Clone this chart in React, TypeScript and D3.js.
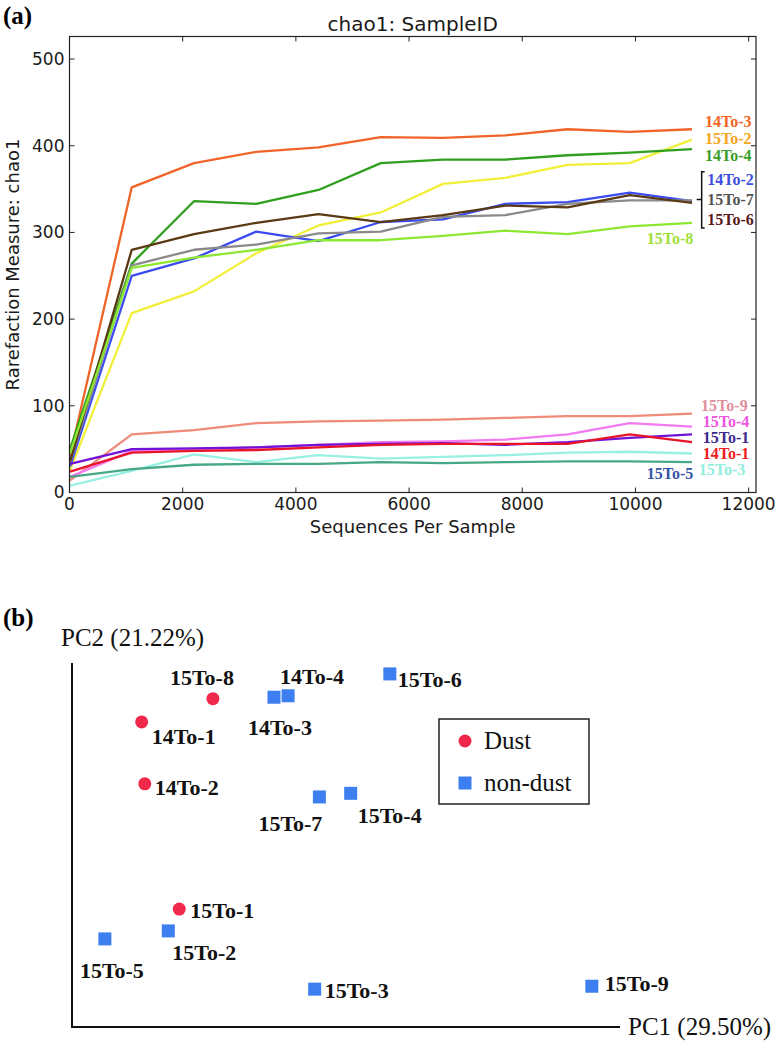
import React from 'react';
import * as d3 from 'd3';

// ---------- (a) rarefaction data ----------
const seqDepths = [10, 1100, 2200, 3300, 4400, 5500, 6600, 7700, 8800, 9900, 11000];

const chao14To3 = [42, 352, 380, 393, 398, 410, 409, 412, 419, 416, 419];
const chao15To2 = [26, 207, 232, 276, 308, 323, 356, 363, 378, 380, 407];
const chao14To4 = [50, 264, 336, 333, 349, 380, 384, 384, 389, 392, 396];
const chao14To2 = [30, 250, 270, 301, 290, 312, 315, 333, 335, 346, 336];
const chao15To7 = [35, 262, 280, 286, 299, 301, 318, 320, 333, 337, 337];
const chao15To6 = [36, 280, 298, 311, 321, 312, 320, 331, 329, 343, 334];
const chao15To8 = [45, 259, 271, 280, 291, 291, 296, 302, 298, 307, 311];
const chao15To9 = [14, 67, 72, 80, 82, 83, 84, 86, 88, 88, 91];
const chao15To4 = [18, 48, 50, 52, 55, 58, 59, 61, 67, 80, 76];
const chao15To1 = [33, 50, 51, 52, 55, 56, 57, 55, 58, 63, 67];
const chao14To1 = [24, 46, 48, 49, 52, 55, 56, 56, 56, 67, 58];
const chao15To3 = [8, 25, 44, 35, 43, 39, 41, 43, 46, 47, 45];
const chao15To5 = [18, 27, 32, 33, 33, 35, 34, 35, 36, 36, 35];

const sampleIds = ['14To-3', '15To-2', '14To-4', '14To-2', '15To-7', '15To-6', '15To-8',
  '15To-9', '15To-4', '15To-1', '14To-1', '15To-3', '15To-5'];
const chaoSeries = [chao14To3, chao15To2, chao14To4, chao14To2, chao15To7, chao15To6, chao15To8,
  chao15To9, chao15To4, chao15To1, chao14To1, chao15To3, chao15To5];

const xTickValues = [0, 2000, 4000, 6000, 8000, 10000, 12000];
const yTickValues = [0, 100, 200, 300, 400, 500];

// ---------- (b) PCoA data ----------
const pcoaIds = ['15To-8', '14To-1', '14To-2', '15To-1', '14To-3', '14To-4', '15To-6',
  '15To-7', '15To-4', '15To-5', '15To-2', '15To-3', '15To-9'];
const pc1Values = [-0.120, -0.211, -0.207, -0.163, -0.042, -0.024, 0.106, 0.016, 0.056, -0.258, -0.177, 0.010, 0.364];
const pc2Values = [0.151, 0.119, 0.034, -0.138, 0.153, 0.155, 0.185, 0.016, 0.021, -0.179, -0.168, -0.248, -0.244];
const pcoaGroups = ['Dust', 'Dust', 'Dust', 'Dust', 'non-dust', 'non-dust', 'non-dust',
  'non-dust', 'non-dust', 'non-dust', 'non-dust', 'non-dust', 'non-dust'];
const legendGroups = ['Dust', 'non-dust'];

// ---------- styles / layout ----------
const lineColors: Record<string, string> = {
  '14To-3': '#f0642a', '15To-2': '#f2ef3a', '14To-4': '#2f9f1e', '14To-2': '#3a4cf0',
  '15To-7': '#8a8a8a', '15To-6': '#5a3a14', '15To-8': '#8ce832', '15To-9': '#f08a7a',
  '15To-4': '#f37af0', '15To-1': '#7212d6', '14To-1': '#e8142a', '15To-3': '#98f0e2', '15To-5': '#46a884',
};
const labelColors: Record<string, string> = {
  '14To-3': '#f26522', '15To-2': '#f5a623', '14To-4': '#3a9e2a', '14To-2': '#3d4fe0',
  '15To-7': '#555555', '15To-6': '#5b1a1a', '15To-8': '#9ee03a', '15To-9': '#e0909a',
  '15To-4': '#ee55dd', '15To-1': '#3b2a8a', '14To-1': '#ee1c1c', '15To-3': '#90eedd', '15To-5': '#3656a8',
};
// curve label anchors in data units [depth, chao1]
const curveLabelAt: Record<string, [number, number]> = {
  '14To-3': [11230, 428], '15To-2': [11230, 408], '14To-4': [11230, 389],
  '14To-2': [11270, 361], '15To-7': [11270, 338], '15To-6': [11270, 315],
  '15To-8': [10200, 293], '15To-9': [11160, 100], '15To-4': [11190, 82],
  '15To-1': [11190, 63], '14To-1': [11190, 45], '15To-3': [11120, 27], '15To-5': [10200, 22],
};
// PCoA label offsets in px [dx, dy]
const pcoaLabelOffset: Record<string, [number, number]> = {
  '15To-8': [-43, -21], '14To-1': [10, 14], '14To-2': [10, 3], '15To-1': [11, 1],
  '14To-3': [-26, 30], '14To-4': [-8, -19], '15To-6': [8, 5], '15To-7': [-61, 26],
  '15To-4': [7, 22], '15To-5': [-25, 31], '15To-2': [4, 21], '15To-3': [10, 1], '15To-9': [13, -3],
};
const groupColor: Record<string, string> = { 'Dust': '#f0284a', 'non-dust': '#3d7ff0' };

const SANS = "'DejaVu Sans', sans-serif";
const SERIF = "'Liberation Serif', 'Times New Roman', serif";

export default function App() {
  // panel (a) scales
  const x = d3.scaleLinear().domain([0, 12130]).range([69.5, 756]);
  const y = d3.scaleLinear().domain([0, 526]).range([492.5, 36.5]);
  const line = d3.line<number>().x((_, i) => x(seqDepths[i])).y((d) => y(d));
  const left = x.range()[0], right = x.range()[1], top = y.range()[1], bottom = y.range()[0];
  const tickLen = 5;

  // panel (b) scales
  const px = d3.scaleLinear().domain([-0.3, 0.4]).range([72, 620]);
  const py = d3.scaleLinear().domain([-0.3, 0.2]).range([1027, 663]);
  const sq = 13;

  const bracketX = x(11170);
  const bTop = y(370), bBot = y(305), bMid = y(338);

  return (
    <svg width={780} height={1043} style={{ position: 'absolute', left: 0, top: 0, background: '#fff' }}>
      <rect width={780} height={1043} fill="#fff" />
      {/* ---------- (a) ---------- */}
      <text x={3} y={24} fontFamily={SERIF} fontWeight="bold" fontSize={25}>(a)</text>
      <text x={(left + right) / 2} y={31} textAnchor="middle" fontFamily={SANS} fontSize={20} fill="#1a1a1a">chao1: SampleID</text>

      {/* lines */}
      <g fill="none" strokeWidth={2.3} strokeLinejoin="round">
        {chaoSeries.map((s, i) => (
          <path key={sampleIds[i]} d={line(s) || ''} stroke={lineColors[sampleIds[i]]} />
        ))}
      </g>

      {/* frame */}
      <rect x={left} y={top} width={right - left} height={bottom - top} fill="none" stroke="#222" strokeWidth={1.2} />
      {xTickValues.map((t) => (
        <g key={'xt' + t}>
          <line x1={x(t)} x2={x(t)} y1={bottom} y2={bottom - tickLen} stroke="#222" />
          <line x1={x(t)} x2={x(t)} y1={top} y2={top + tickLen} stroke="#222" />
          <text x={x(t)} y={510} textAnchor="middle" fontFamily={SANS} fontSize={17} fill="#1a1a1a">{t}</text>
        </g>
      ))}
      {yTickValues.map((t) => (
        <g key={'yt' + t}>
          <line x1={left} x2={left + tickLen} y1={y(t)} y2={y(t)} stroke="#222" />
          <line x1={right} x2={right - tickLen} y1={y(t)} y2={y(t)} stroke="#222" />
          <text x={left - 5} y={y(t)} dy="0.35em" textAnchor="end" fontFamily={SANS} fontSize={17} fill="#1a1a1a">{t}</text>
        </g>
      ))}
      <text x={(left + right) / 2} y={533} textAnchor="middle" fontFamily={SANS} fontSize={18} fill="#1a1a1a">Sequences Per Sample</text>
      <text transform={`translate(19, ${(top + bottom) / 2}) rotate(-90)`} textAnchor="middle" fontFamily={SANS} fontSize={18} fill="#1a1a1a">Rarefaction Measure: chao1</text>

      {/* curve labels */}
      {sampleIds.map((id) => (
        <text key={'cl' + id} x={x(curveLabelAt[id][0])} y={y(curveLabelAt[id][1])} dy="0.35em"
          fontFamily={SERIF} fontWeight="bold" fontSize={16} fill={labelColors[id]}>{id}</text>
      ))}
      <path d={`M${bracketX + 3},${bTop} H${bracketX} V${bBot} H${bracketX + 3} M${bracketX},${bMid} H${bracketX - 5}`}
        fill="none" stroke="#111" strokeWidth={1.5} />

      {/* ---------- (b) ---------- */}
      <text x={3} y={626} fontFamily={SERIF} fontWeight="bold" fontSize={25}>(b)</text>
      <text x={61} y={646} fontFamily={SERIF} fontSize={25} fill="#111">PC2 (21.22%)</text>
      <line x1={px(-0.3)} x2={px(-0.3)} y1={py(0.2)} y2={py(-0.3) + 1} stroke="#111" strokeWidth={2} />
      <line x1={px(-0.3) - 1} x2={px(0.4)} y1={py(-0.3)} y2={py(-0.3)} stroke="#111" strokeWidth={2} />
      <text x={628} y={py(-0.3)} dy="0.33em" fontFamily={SERIF} fontSize={25} fill="#111">PC1 (29.50%)</text>

      {pcoaIds.map((id, i) => {
        const cx = px(pc1Values[i]);
        const cy = py(pc2Values[i]);
        const g = pcoaGroups[i];
        return (
          <g key={'p' + id}>
            {g === 'Dust'
              ? <circle cx={cx} cy={cy} r={6.5} fill={groupColor[g]} />
              : <rect x={cx - sq / 2} y={cy - sq / 2} width={sq} height={sq} fill={groupColor[g]} />}
            <text x={cx + pcoaLabelOffset[id][0]} y={cy + pcoaLabelOffset[id][1]} dy="0.35em"
              fontFamily={SERIF} fontWeight="bold" fontSize={22} fill="#111">{id}</text>
          </g>
        );
      })}

      {/* legend */}
      <rect x={439} y={719} width={150} height={85} fill="#fff" stroke="#222" strokeWidth={1.5} />
      {legendGroups.map((g, i) => {
        const ly = 741 + i * 42;
        return (
          <g key={'lg' + g}>
            {g === 'Dust'
              ? <circle cx={465} cy={ly} r={6.5} fill={groupColor[g]} />
              : <rect x={465 - sq / 2} y={ly - sq / 2} width={sq} height={sq} fill={groupColor[g]} />}
            <text x={484} y={ly} dy="0.33em" fontFamily={SERIF} fontSize={25} fill="#111">{g}</text>
          </g>
        );
      })}
    </svg>
  );
}
